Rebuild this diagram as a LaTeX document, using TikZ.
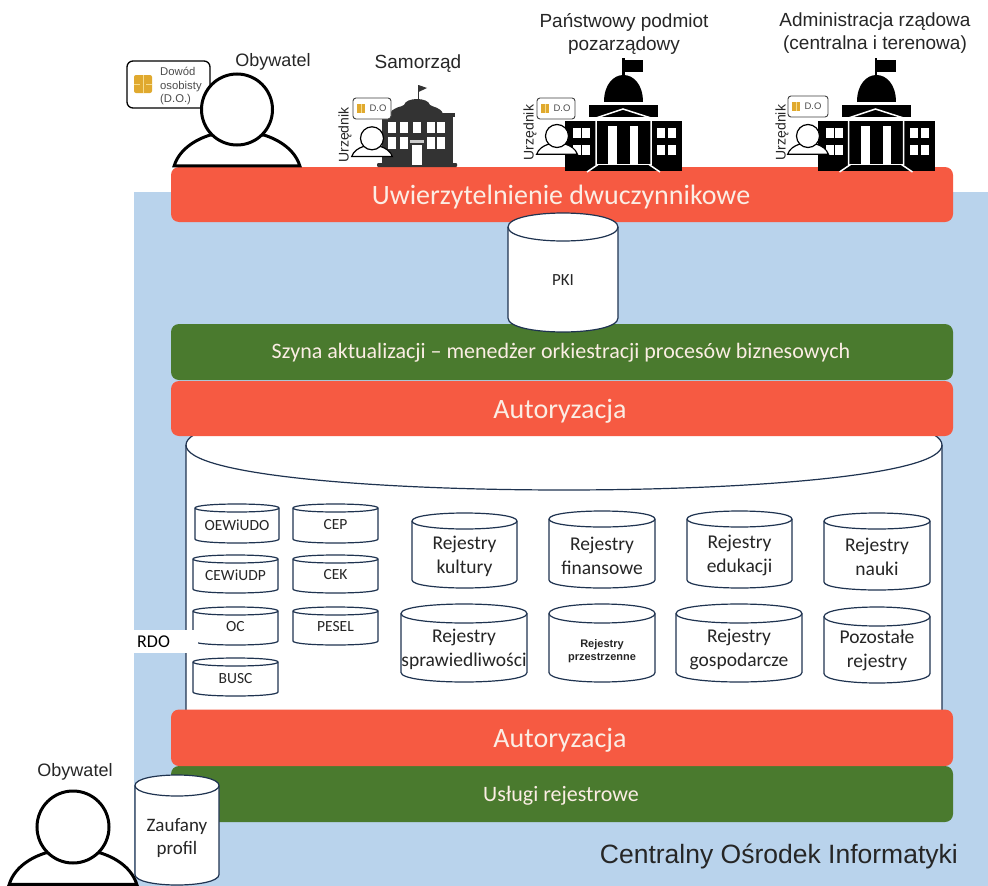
\documentclass[tikz,border=0pt]{standalone}
\usepackage{fontspec}
\setmainfont{Carlito}
\newfontfamily\arialf{Liberation Sans}
\definecolor{bluebg}{HTML}{B9D3EC}
\definecolor{redbar}{HTML}{F65A42}
\definecolor{greenbar}{HTML}{4A7A2E}
\definecolor{cylline}{HTML}{1F3350}
\definecolor{barlabel}{HTML}{FBEDE4}
\definecolor{samo}{HTML}{333333}
\definecolor{chip}{HTML}{E0A92E}
\definecolor{chiplight}{HTML}{F6DC8C}
\tikzset{
 x=1pt,y=-1pt,
 barbox/.style={rounded corners=8pt,draw=none},
 barbig/.style={text=barlabel,inner sep=0pt,font=\fontsize{28}{32}\selectfont},
 barsmall/.style={text=barlabel,inner sep=0pt,font=\fontsize{22}{26}\selectfont},
 cylstyle/.style={draw=cylline,line width=1.2pt,fill=white},
 cyltext/.style={align=center,text=black!85,inner sep=0pt},
 sanslabel/.style={font=\arialf\fontsize{19}{23}\selectfont,align=center,inner sep=0pt,text=black!85},
 urzlabel/.style={font=\arialf\fontsize{14}{16}\selectfont,inner sep=0pt,text=black!85,rotate=90},
}
% name, x1, ytop, x2, ybottom, ry, {size}{skip}, text y, text
\newcommand{\mycyl}[9]{%
 \path[cylstyle] (#2,#3+#6) -- (#2,#5-#6) .. controls (#2,#5+#6*0.333) and (#4,#5+#6*0.333) .. (#4,#5-#6) -- (#4,#3+#6)
    .. controls (#4,#3-#6*0.333) and (#2,#3-#6*0.333) .. (#2,#3+#6) -- cycle;
 \draw[cylline,line width=1.2pt] (#2,#3+#6) .. controls (#2,#3+#6*2.333) and (#4,#3+#6*2.333) .. (#4,#3+#6);
 \node[cyltext,font=\fontsize#7\selectfont] (#1) at ({(#2+#4)/2},#8) {#9};
}
% cx, cy, r, line width, name
\newcommand{\myperson}[5]{%
 \path[draw=black,line width=#4,fill=white] (#1-#3*1.77,#2+#3*1.59) .. controls (#1-#3*1.63,#2+#3*1.13) and (#1-#3*1.18,#2+#3*.85) .. (#1-#3*.76,#2+#3*.72)
   -- (#1+#3*.76,#2+#3*.72) .. controls (#1+#3*1.18,#2+#3*.85) and (#1+#3*1.63,#2+#3*1.13) .. (#1+#3*1.77,#2+#3*1.59) -- cycle;
 \node[draw=black,line width=#4,fill=white,circle,minimum size=#3*2pt,inner sep=0pt,outer sep=0pt] (#5) at (#1,#2) {};
}
% x1,y1,x2,y2,name
\newcommand{\mybadge}[5]{%
 \draw[draw=black!75,line width=.9pt,fill=white,rounded corners=3pt] (#1,#2) rectangle (#3,#4);
 \fill[chip] (#1+4,#2+6) rectangle (#1+12,#4-6);
 \draw[chiplight,line width=.6pt] (#1+8,#2+6) -- (#1+8,#4-6);
 \node[font=\arialf\fontsize{9.5}{11}\selectfont,text=black!70,inner sep=0pt] (#5) at (#1+25,{(#2+#4)/2}) {D.O};
}
% classical building, drawn for the Panstwowy position
\newcommand{\mybuilding}{%
 \fill[black] (622,58) rectangle (624.5,78);
 \fill[black] (624,60) -- (643,60) -- (643,72) -- (624,72) -- cycle;
 \fill[black] (604,102) .. controls (604,66) and (643,66) .. (643,102) -- cycle;
 \fill[black] (589,105) rectangle (658,117);
 \fill[black] (565,121) rectangle (682,171);
 \foreach \wx/\wy in {573/128,582/128,573/145,582/145,657/128,668/128,657/145,668/145}
   \fill[white] (\wx,\wy) rectangle +(8,10);
 \draw[white,line width=1.5pt] (596,165) -- (596,118) -- (623,109) -- (651,118) -- (651,165);
 \fill[white] (608,126) rectangle (617,164);
 \fill[white] (630,126) rectangle (638,164);
 \draw[white,line width=1.5pt] (596,164.5) -- (651,164.5);
 \draw[white,line width=1.5pt] (587,172) -- (598,164.5);
 \draw[white,line width=1.5pt] (660,172) -- (649,164.5);
}
\begin{document}
\begin{tikzpicture}
\useasboundingbox (0,0) rectangle (988,886);
\fill[white] (0,0) rectangle (988,886);
\fill[bluebg] (134,192) rectangle (988,886);
% large cylinder
\mycyl{rdoc}{186}{400}{942}{755}{45}{{1}{2}}{500}{}
% bars
\fill[redbar,barbox] (171,167) rectangle (953,222);
\fill[greenbar,barbox] (171,324) rectangle (953,380);
\fill[redbar,barbox] (171,381) rectangle (953,436);
\fill[greenbar,barbox] (171,766) rectangle (953,822);
\fill[redbar,barbox] (171,709.5) rectangle (953,766);
\node[barbig] (uwierz) at (561,197) {Uwierzytelnienie dwuczynnikowe};
\node[barsmall] (szyna) at (561,353) {Szyna aktualizacji – menedżer orkiestracji procesów biznesowych};
\node[barbig] (auth1) at (560,411) {Autoryzacja};
\node[barbig] (auth2) at (560,740) {Autoryzacja};
\node[barsmall] (uslugi) at (561,796) {Usługi rejestrowe};
% PKI
\mycyl{pki}{508}{213}{618}{332}{14}{{17}{20}}{280}{PKI}
% small cylinders
\mycyl{oewiudo}{195}{504}{279}{543}{4}{{15.5}{18}}{525}{OEWiUDO}
\mycyl{cep}{293}{504}{378}{543}{4}{{15.5}{18}}{525}{CEP}
\mycyl{cewiudp}{193}{555}{278}{593}{4}{{15.5}{18}}{575}{CEWiUDP}
\mycyl{cek}{293}{555}{378}{593}{4}{{15.5}{18}}{575}{CEK}
\mycyl{oc}{193}{607}{278}{645}{4}{{15.5}{18}}{627}{OC}
\mycyl{pesel}{293}{607}{378}{645}{4}{{15.5}{18}}{627}{PESEL}
\mycyl{busc}{193}{658}{278}{696}{4}{{15.5}{18}}{679}{BUSC}
% RDO label
\fill[white] (134,630) rectangle (198,653);
\node[anchor=west,font=\fontsize{18}{21}\selectfont,inner sep=0pt,text=black] (rdo) at (137,642) {RDO};
% register cylinders
\mycyl{kult}{412}{513}{517}{588}{8}{{19.5}{24}}{556.5}{Rejestry\\kultury}
\mycyl{fin}{549}{511}{655}{588}{8}{{19.5}{24}}{555.5}{Rejestry\\finansowe}
\mycyl{edu}{687}{511}{792}{588}{8}{{19.5}{24}}{555.5}{Rejestry\\edukacji}
\mycyl{nau}{824}{513}{930}{590}{8}{{19.5}{24}}{556.5}{Rejestry\\nauki}
\mycyl{spr}{401}{604}{527}{682}{9.5}{{19.5}{24}}{649.5}{Rejestry\\sprawiedliwości}
\mycyl{prz}{549}{604}{655}{682}{9.5}{{11}{13.5}}{651}{\arialf\bfseries Rejestry\\\arialf\bfseries przestrzenne}
\mycyl{gos}{676}{604}{802}{682}{9.5}{{19.5}{24}}{649.5}{Rejestry\\gospodarcze}
\mycyl{poz}{824}{607}{930}{683}{9.5}{{19.5}{24}}{650.5}{Pozostałe\\rejestry}
% persons
\myperson{73}{827}{36}{3pt}{obyw2}
% zaufany profil
\mycyl{zauf}{135}{775}{219}{885}{10.5}{{19}{23.5}}{838}{Zaufany\\profil}
% Dowod badge
\draw[black,line width=1.3pt,fill=white,rounded corners=6pt] (127,61) rectangle (210,108);
\fill[chip,rounded corners=2pt] (134,75) rectangle (152,93);
\draw[chiplight,line width=1pt] (143,75) -- (143,93) (134,84) -- (140,84) (146,84) -- (152,84);
\node[anchor=west,align=left,inner sep=0pt,font=\arialf\fontsize{11.3}{13.5}\selectfont,text=black!70] (dowod) at (160,86.5) {Dowód\\osobisty\\(D.O.)};
\myperson{237}{109.5}{35.5}{3pt}{obyw1}
% Samorzad building
\fill[samo] (418,85) rectangle (419,99);
\fill[samo] (418.5,85) -- (427,88) -- (418.5,92) -- cycle;
\fill[samo] (390,114) .. controls (392,107) and (402,107) .. (404,105) .. controls (406,97) and (428,97) .. (430,105) .. controls (432,107) and (441,107) .. (443,114) -- cycle;
\fill[samo] (378,113) rectangle (455,117);
\fill[samo] (382,117) rectangle (453,164);
\fill[samo,rounded corners=1pt] (377,163) rectangle (457,167);
\foreach \wx in {388,400,413,427,437}
  \fill[white] (\wx,122) rectangle +(8,11);
\foreach \wx in {388,400,427,437}
  \fill[white] (\wx,137) rectangle +(8,11.5);
\fill[white] (412,145) rectangle (422,165);
\fill[white!80!black] (410,140) rectangle (424,142.5);
\myperson{372}{138.3}{11.5}{1.2pt}{urz1}
\mybadge{353}{98}{391}{119}{do1}
\node[urzlabel] (lurz1) at (345,135) {Urzędnik};
% Panstwowy building
\mybuilding
\myperson{557}{136}{11.5}{1.2pt}{urz2}
\mybadge{537}{98}{575}{119}{do2}
\node[urzlabel] (lurz2) at (530,132.5) {Urzędnik};
% Administracja building
\begin{scope}[shift={(252.5,0)}]
\mybuilding
\end{scope}
\myperson{808}{136}{11.5}{1.2pt}{urz3}
\mybadge{788}{96}{828}{117}{do3}
\node[urzlabel] (lurz3) at (782,132.5) {Urzędnik};
% labels
\node[sanslabel,font=\arialf\fontsize{18}{21}\selectfont] (lob1) at (273,62) {Obywatel};
\node[sanslabel,font=\arialf\fontsize{18}{21}\selectfont] (lob2) at (75,772) {Obywatel};
\node[sanslabel] (lsam) at (418,64) {Samorząd};
\node[sanslabel] (lpan) at (624,33.5) {Państwowy podmiot\\pozarządowy};
\node[sanslabel] (ladm) at (875,33.5) {Administracja rządowa\\(centralna i terenowa)};
\node[anchor=east,inner sep=0pt,font=\arialf\fontsize{26.5}{31}\selectfont,text=black!85] (coi) at (958,856) {Centralny Ośrodek Informatyki};
\end{tikzpicture}
\end{document}
